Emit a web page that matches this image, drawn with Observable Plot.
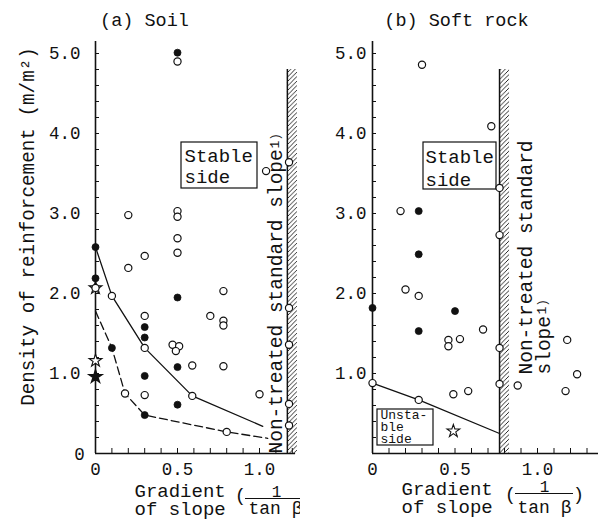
<!DOCTYPE html>
<html><head><meta charset="utf-8">
<script src="https://cdn.jsdelivr.net/npm/d3@7"></script>
<script src="https://cdn.jsdelivr.net/npm/@observablehq/plot@0.6"></script>
<style>
html,body{margin:0;padding:0;background:#fff;}
#wrap{position:relative;width:598px;height:521px;overflow:hidden;background:#fff;}
#wrap svg{position:absolute;top:0;}
</style></head><body><div id="wrap"></div>
<script>
// ---------- (a) Soil ----------
const soilOpen = [
  [0.50,4.90],[0.20,2.98],[0.50,3.03],[0.50,2.96],[0.50,2.69],[0.50,2.51],
  [0.30,2.47],[0.20,2.32],[0.30,1.72],[0.47,1.36],[0.51,1.34],[0.49,1.28],
  [0.59,1.10],[0.30,0.73],[0.78,2.03],[0.70,1.72],[0.78,1.66],[0.78,1.60],
  [0.78,1.09],[1.00,0.74],[1.04,3.53],[1.18,3.64],[1.18,1.82],[1.18,1.36],
  [1.18,0.62],[1.18,0.35],[0,2.07],[0.10,1.97],[0.30,1.32],[0.59,0.72],
  [0.18,0.75],[0.80,0.27]
];
const soilFilled = [
  [0.50,5.01],[0,2.58],[0,2.19],[0.10,1.32],[0.30,0.48],[0.30,1.58],
  [0.30,1.45],[0.30,0.97],[0.50,1.95],[0.50,1.08],[0.50,0.61]
];
const soilStarOpen = [[0,2.07],[0,1.16]];
const soilStarFilled = [[0,0.96]];
const soilSolid = [[0,2.58],[0.10,1.97],[0.30,1.32],[0.59,0.72],[1.02,0.34]];
const soilDashed = [[0,1.78],[0.10,1.32],[0.18,0.75],[0.30,0.48],[0.80,0.27],[1.05,0.19]];
const soilWall = 1.17;

// ---------- (b) Soft rock ----------
const rockOpen = [
  [0.30,4.86],[0.72,4.09],[0.77,3.32],[0.77,2.73],[0.17,3.03],[0.20,2.05],
  [0.28,1.97],[0.46,1.42],[0.46,1.34],[0.53,1.43],[0.67,1.55],[0.77,1.32],
  [0.77,0.87],[0.88,0.85],[1.18,1.42],[1.24,0.99],[1.17,0.78],[0.49,0.74],
  [0.58,0.78],[0,0.88],[0.28,0.67]
];
const rockFilled = [[0.28,3.03],[0.28,2.49],[0,1.82],[0.50,1.78],[0.28,1.53]];
const rockStarOpen = [[0.49,0.28]];
const rockLine = [[0,0.88],[0.28,0.67],[0.77,0.25]];
const rockWall = 0.77;

// ---------- ticks ----------
const yTickValues = [0, 1, 2, 3, 4, 5];
const yTickLabels = ["0", "1.0", "2.0", "3.0", "4.0", "5.0"];
const xTickValues = [0, 0.5, 1];
const xTickLabels = ["0", "0.5", "1.0"];

const FONT = "'Liberation Mono','DejaVu Sans Mono',monospace";
const INK = "#111111";
const Y0 = 453, KY = 80; // y: 0 -> 453px, 1 unit = 80px

function panel(cfg) {
  const {off, width, x0, kx, xEnd, wall, open, filled, starOpen, starFilled, lines, texts, boxes, yLabels, yLabelDx, frac, id} = cfg;
  const px = p => (p - x0) / kx;          // page pixel -> data x
  const py = p => (Y0 - p) / KY;          // page pixel -> data y
  const T = (s, X, Y, o = {}) => Plot.text([s], {
    text: d => d, frameAnchor: "top-left", dx: X - off, dy: Y,
    lineAnchor: "bottom", fontFamily: FONT, fill: INK, fontSize: 19, ...o
  });
  const yMinor = d3.range(0.2, 5.01, 0.2);
  const xMinor = d3.range(0.1, xEnd, 0.1);
  const X = d => d[0], Yf = d => d[1];
  const marks = [
    Plot.ruleX([0], {y1: 0, y2: 5.15, stroke: INK, strokeWidth: 1.6}),
    Plot.ruleY([0], {x1: 0, x2: xEnd, stroke: INK, strokeWidth: 1.4}),
    Plot.ruleY(yMinor, {y: d => d, x1: 0, x2: 4 / kx, stroke: INK, strokeWidth: 1}),
    Plot.ruleX(xMinor, {x: d => d, y1: 0, y2: 5 / KY, stroke: INK, strokeWidth: 1}),
    Plot.text(yLabels.map(i => yTickValues[i]), {x: 0, y: d => d, text: (d) => yTickLabels[yTickValues.indexOf(d)],
      textAnchor: "end", dx: yLabelDx, fontSize: 17.5, fontFamily: FONT, fill: INK}),
    Plot.text(xTickValues, {x: d => d, y: 0, dy: 16, text: (d, i) => xTickLabels[i],
      fontSize: 17.5, fontFamily: FONT, fill: INK}),
    Plot.rect([wall], {x1: d => d, x2: d => d + 10 / kx, y1: 0, y2: 4.8, fill: `url(#hatch${id})`}),
    Plot.ruleX([wall], {x: d => d, y1: 0, y2: 4.8, stroke: INK, strokeWidth: 1.5}),
  ];
  for (const ln of lines) {
    marks.push(Plot.line(ln.data, {x: X, y: Yf, stroke: INK, strokeWidth: 1.3, strokeDasharray: ln.dash || null}));
  }
  for (const b of boxes) {
    marks.push(Plot.rect([0], {x1: px(b[0]), x2: px(b[2]), y1: py(b[3]), y2: py(b[1]), fill: "none", stroke: INK, strokeWidth: 1.2}));
  }
  marks.push(
    Plot.dot(filled, {x: X, y: Yf, r: 3.5, fill: INK, stroke: INK, strokeWidth: 0.8}),
    Plot.dot(starFilled, {x: X, y: Yf, r: 4, symbol: "star", fill: INK, stroke: INK}),
    Plot.dot(starOpen, {x: X, y: Yf, r: 4, symbol: "star", fill: "white", stroke: INK, strokeWidth: 1.1}),
    Plot.dot(open, {x: X, y: Yf, r: 3.6, fill: "white", stroke: INK, strokeWidth: 1.2})
  );
  marks.push(Plot.ruleY([0], {y: py(frac.y), x1: px(frac.x1), x2: px(frac.x2), stroke: INK, strokeWidth: 1.1}));
  for (const t of texts) marks.push(T(t[0], t[1], t[2], t[3] || {}));

  const svg = Plot.plot({
    width, height: 521, margin: 0,
    x: {domain: [0, 1], range: [x0 - off, x0 + kx - off], axis: null},
    y: {domain: [0, 5], range: [Y0, Y0 - 5 * KY], axis: null},
    style: {fontFamily: FONT, background: "white", color: INK, overflow: "visible"},
    marks
  });
  const defs = d3.select(svg).insert("defs", ":first-child");
  const pat = defs.append("pattern").attr("id", `hatch${id}`).attr("patternUnits", "userSpaceOnUse")
    .attr("width", 4.5).attr("height", 4.5);
  pat.append("path").attr("d", "M-1,5.5 L5.5,-1 M-1,1 L1,-1 M3.5,5.5 L5.5,3.5")
    .attr("stroke", INK).attr("stroke-width", 0.9).attr("fill", "none");
  svg.style.left = off + "px";
  return svg;
}

const wrap = document.getElementById("wrap");

wrap.appendChild(panel({
  id: "L", off: 0, width: 300, x0: 95, kx: 164, xEnd: 1.22, wall: soilWall,
  open: soilOpen, filled: soilFilled, starOpen: soilStarOpen, starFilled: soilStarFilled,
  lines: [{data: soilSolid}, {data: soilDashed, dash: "8,4"}],
  yLabels: [1, 2, 3, 4, 5], yLabelDx: -15,
  boxes: [[181, 142, 257, 188]],
  frac: {y: 498, x1: 245, x2: 305},
  texts: [
    ["0", 79, 459, {textAnchor: "middle", fontSize: 17.5}],
    ["(a) Soil", 144, 25, {textAnchor: "middle", fontSize: 18.5}],
    ["Density of reinforcement (m/m²)", 33, 226, {textAnchor: "middle", rotate: -90, fontSize: 19.3}],
    ["Stable\nside", 184, 182, {textAnchor: "start", lineHeight: 1.1}],
    ["Non-treated standard slope", 281, 453, {textAnchor: "start", rotate: -90, fontSize: 19.5}],
    ["1)", 278, 148, {textAnchor: "start", rotate: -90, fontSize: 13}],
    ["Gradient\nof slope", 134, 514, {textAnchor: "start", lineHeight: 0.9}],
    ["(", 240, 500, {textAnchor: "middle"}],
    [")", 308, 500, {textAnchor: "middle"}],
    ["1", 276, 496, {textAnchor: "middle", fontSize: 16}],
    ["tan β", 275, 513, {textAnchor: "middle", fontSize: 18}]
  ]
}));

wrap.appendChild(panel({
  id: "R", off: 300, width: 298, x0: 372, kx: 165, xEnd: 1.37, wall: rockWall,
  open: rockOpen, filled: rockFilled, starOpen: rockStarOpen, starFilled: [],
  lines: [{data: rockLine}],
  yLabels: [1, 2, 3, 4, 5], yLabelDx: -6,
  boxes: [[423, 142, 496, 189], [377, 409, 433, 445]],
  frac: {y: 493, x1: 515, x2: 573},
  texts: [
    ["(b) Soft rock", 456, 25, {textAnchor: "middle", fontSize: 18.5}],
    ["Stable\nside", 425, 185, {textAnchor: "start", lineHeight: 1.16}],
    ["Unsta-\nble\nside", 380, 442, {textAnchor: "start", fontSize: 13, lineHeight: 0.9}],
    ["Non-treated standard", 531, 374, {textAnchor: "start", rotate: -90, fontSize: 19.5}],
    ["slope", 549, 374, {textAnchor: "start", rotate: -90, fontSize: 19.5}],
    ["1)", 545, 314, {textAnchor: "start", rotate: -90, fontSize: 13}],
    ["Gradient\nof slope", 401, 512, {textAnchor: "start", lineHeight: 0.9}],
    ["(", 510, 499, {textAnchor: "middle"}],
    [")", 578, 499, {textAnchor: "middle"}],
    ["1", 544, 491, {textAnchor: "middle", fontSize: 16}],
    ["tan β", 544, 512, {textAnchor: "middle", fontSize: 18}]
  ]
}));
</script></body></html>
